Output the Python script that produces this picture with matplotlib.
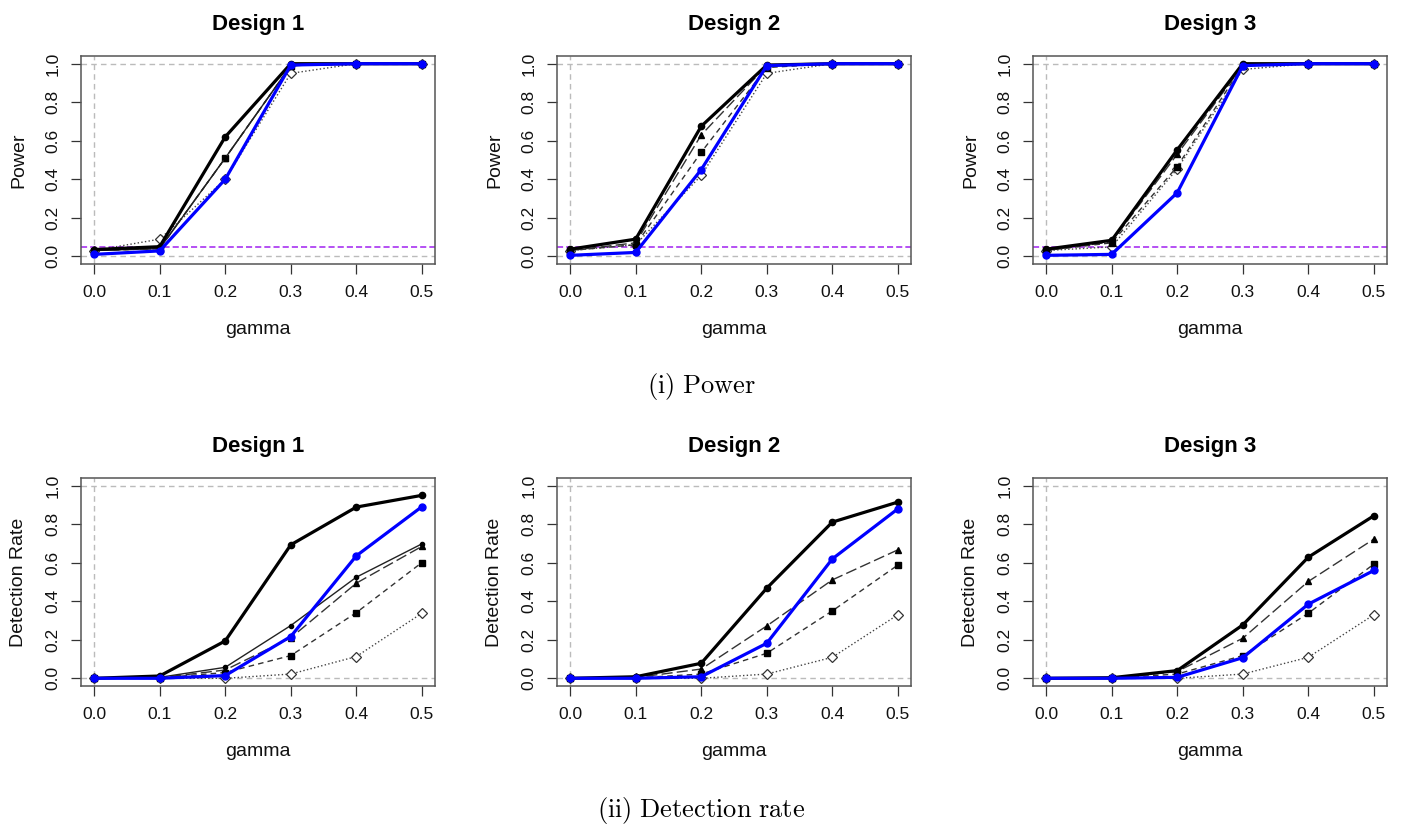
import numpy as np
import matplotlib
matplotlib.use("Agg")
import matplotlib.pyplot as plt

plt.rcParams['font.family'] = ['Liberation Sans', 'DejaVu Sans']
plt.rcParams['mathtext.fontset'] = 'cm'

gamma = [0.0, 0.1, 0.2, 0.3, 0.4, 0.5]
designs = ["Design 1", "Design 2", "Design 3"]

# power, one list per method and design
power_a = [[0.035, 0.05, 0.62, 1.0, 1.0, 1.0],
           [0.037, 0.089, 0.675, 0.993, 1.0, 1.0],
           [0.037, 0.083, 0.553, 1.0, 1.0, 1.0]]
power_b = [[0.01, 0.028, 0.40, 0.993, 1.0, 1.0],
           [0.005, 0.02, 0.45, 0.99, 1.0, 1.0],
           [0.005, 0.01, 0.33, 0.99, 1.0, 1.0]]
power_c = [[0.03, 0.04, 0.51, 0.99, 1.0, 1.0],
           [0.037, 0.089, 0.675, 0.993, 1.0, 1.0],
           [0.037, 0.083, 0.553, 1.0, 1.0, 1.0]]
power_d = [[0.03, 0.04, 0.51, 0.99, 1.0, 1.0],
           [0.03, 0.07, 0.63, 0.99, 1.0, 1.0],
           [0.03, 0.075, 0.53, 0.99, 1.0, 1.0]]
power_e = [[0.03, 0.04, 0.51, 0.99, 1.0, 1.0],
           [0.03, 0.06, 0.54, 0.98, 1.0, 1.0],
           [0.03, 0.07, 0.466, 0.99, 1.0, 1.0]]
power_f = [[0.03, 0.089, 0.40, 0.95, 1.0, 1.0],
           [0.03, 0.06, 0.42, 0.95, 1.0, 1.0],
           [0.03, 0.049, 0.454, 0.97, 1.0, 1.0]]

# detection rate
det_a = [[0.0, 0.012, 0.194, 0.693, 0.889, 0.95],
         [0.0, 0.008, 0.078, 0.468, 0.811, 0.915],
         [0.0, 0.003, 0.04, 0.277, 0.629, 0.844]]
det_b = [[0.0, 0.0, 0.014, 0.217, 0.636, 0.891],
         [0.0, 0.0, 0.008, 0.182, 0.62, 0.88],
         [0.0, 0.0, 0.005, 0.107, 0.385, 0.56]]
det_c = [[0.0, 0.005, 0.057, 0.274, 0.525, 0.698],
         [0.0, 0.008, 0.078, 0.468, 0.811, 0.915],
         [0.0, 0.003, 0.04, 0.277, 0.629, 0.844]]
det_d = [[0.0, 0.003, 0.043, 0.21, 0.494, 0.685],
         [0.0, 0.004, 0.048, 0.272, 0.511, 0.667],
         [0.0, 0.002, 0.035, 0.208, 0.503, 0.723]]
det_e = [[0.0, 0.002, 0.03, 0.118, 0.341, 0.601],
         [0.0, 0.002, 0.022, 0.13, 0.35, 0.588],
         [0.0, 0.001, 0.022, 0.118, 0.338, 0.593]]
det_f = [[0.0, 0.0, 0.0, 0.022, 0.113, 0.338],
         [0.0, 0.0, 0.0, 0.022, 0.109, 0.33],
         [0.0, 0.0, 0.0, 0.022, 0.109, 0.33]]

W, H = 1402, 825
fig = plt.figure(figsize=(W / 100, H / 100), dpi=100)

lefts = [81, 557, 1033]
width = 354


def panel(left, top, bottom, i, a, b, c, d, e, f, ylab, alpha_line):
    ax = fig.add_axes([left / W, 1 - bottom / H, width / W, (bottom - top) / H])
    ax.axhline(0, color="#bbbbbb", ls=(0, (4, 3)), lw=1)
    ax.axhline(1, color="#bbbbbb", ls=(0, (4, 3)), lw=1)
    ax.axvline(0, color="#bbbbbb", ls=(0, (4, 3)), lw=1)
    if alpha_line:
        ax.axhline(0.05, color="#a020f0", ls=(0, (4, 2)), lw=1.1)
    ax.plot(gamma, f[i], color="#444444", ls=":", lw=1, marker="D", ms=5,
            mfc="white", mec="#333333", mew=0.9)
    ax.plot(gamma, e[i], color="#333333", ls=(0, (4, 3)), lw=1, marker="s", ms=4, mfc="black", mec="black")
    ax.plot(gamma, d[i], color="#333333", ls=(0, (8, 3)), lw=1, marker="^", ms=5, mfc="black", mec="black")
    ax.plot(gamma, c[i], color="#222222", ls="-", lw=1, marker="o", ms=3, mfc="black", mec="black")
    ax.plot(gamma, a[i], color="black", ls="-", lw=2.3, marker="o", ms=4.5, mfc="black", mec="black")
    ax.plot(gamma, b[i], color="#0000ff", ls="-", lw=2.3, marker="o", ms=5, mfc="#0000ff", mec="#0000ff")
    ax.set_xlim(-0.02, 0.52)
    ax.set_ylim(-0.04, 1.04)
    ax.set_xticks(gamma)
    ax.set_xticklabels(["%.1f" % g for g in gamma])
    ax.set_yticks([0, 0.2, 0.4, 0.6, 0.8, 1.0])
    ax.set_yticklabels(["0.0", "0.2", "0.4", "0.6", "0.8", "1.0"], rotation=90, va="center")
    ax.tick_params(colors="#333333", labelcolor="#111111", labelsize=12.5, length=7, width=0.9)
    ax.tick_params(axis="x", pad=8)
    ax.tick_params(axis="y", pad=8)
    for s in ax.spines.values():
        s.set_color("#555555")
        s.set_linewidth(1.1)
    ax.set_xlabel("gamma", fontsize=14, color="#111111", labelpad=15)
    ax.set_ylabel(ylab, fontsize=14, color="#111111", labelpad=13)
    ax.set_title(designs[i], fontsize=16, fontweight="bold", pad=19)
    return ax


for i in range(3):
    panel(lefts[i], 56, 264, i, power_a, power_b, power_c, power_d, power_e, power_f, "Power", True)
    panel(lefts[i], 478, 686, i, det_a, det_b, det_c, det_d, det_e, det_f, "Detection Rate", False)

fig.text(0.5, 1 - 386 / H, r"$\mathrm{(i)\ Power}$", ha="center", va="center", fontsize=19)
fig.text(0.5, 1 - 810 / H, r"$\mathrm{(ii)\ Detection\ rate}$", ha="center", va="center", fontsize=19)

fig.savefig("out.png", dpi=100, facecolor="white")
